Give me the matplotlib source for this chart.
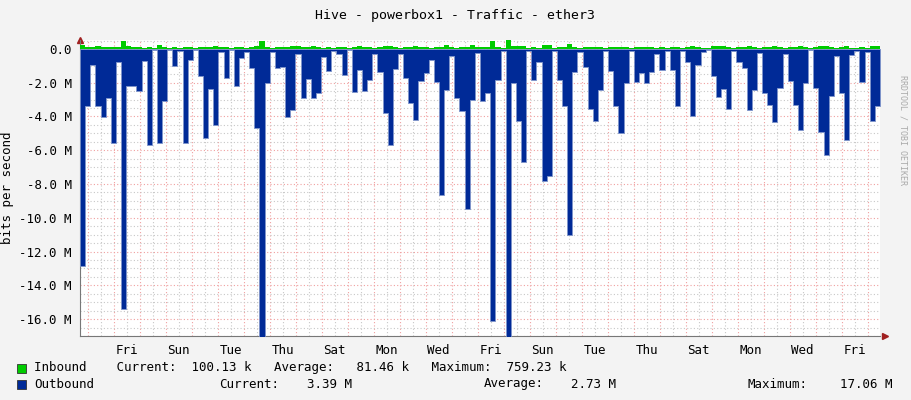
import numpy as np
import matplotlib
matplotlib.use("Agg")
import matplotlib.pyplot as plt

outbound_M = [
 12.85,3.4,0.95,3.4,4.05,2.9,5.55,0.8,15.4,2.2,2.2,2.5,0.7,5.7,0.05,5.55,3.1,0.05,1.0,0.1,
 5.55,0.65,0.05,1.6,5.3,2.4,4.5,0.2,1.75,0.05,2.2,0.55,0.2,1.1,4.7,17.06,2.0,0.2,1.1,
 1.05,4.05,3.6,0.3,2.9,1.8,2.9,2.6,0.45,1.3,0.15,0.3,1.55,0.05,2.55,1.25,2.5,1.85,0.3,1.35,3.8,
 5.7,1.2,0.3,1.7,3.2,4.2,1.9,1.4,0.65,1.95,8.65,2.45,0.4,2.9,3.7,9.5,3.0,0.25,
 3.1,2.6,16.1,1.85,0.15,17.06,2.0,4.25,6.7,0.15,1.85,0.75,7.8,7.55,0.1,1.85,3.4,11.0,1.35,0.2,
 1.05,3.55,4.25,2.45,0.15,1.3,3.4,4.95,2.0,0.15,1.95,1.45,2.0,1.35,0.3,1.25,0.15,1.25,
 3.4,0.1,0.8,4.0,0.95,0.2,0.05,1.6,2.85,2.35,3.55,0.1,0.75,1.15,3.6,2.45,0.25,2.6,3.3,4.3,
 2.3,0.3,1.9,3.3,4.8,2.0,0.05,2.3,4.9,6.3,2.8,0.4,2.6,5.4,0.35,0.15,1.95,0.18,4.25,3.4]

inbound_M = [
 0.25,0.1,0.1,0.15,0.1,0.1,0.1,0.1,0.45,0.15,0.1,0.1,0.05,0.1,0.05,0.25,0.1,0.05,0.1,0.05,
 0.1,0.1,0.05,0.1,0.1,0.1,0.15,0.1,0.1,0.05,0.1,0.1,0.05,0.1,0.2,0.45,0.1,0.05,0.1,
 0.1,0.1,0.15,0.15,0.1,0.1,0.15,0.1,0.05,0.1,0.05,0.1,0.1,0.05,0.1,0.15,0.1,0.1,0.05,0.1,0.15,
 0.15,0.1,0.05,0.1,0.1,0.15,0.1,0.1,0.05,0.1,0.1,0.25,0.1,0.05,0.1,0.1,0.25,0.1,
 0.1,0.1,0.45,0.1,0.05,0.76,0.15,0.15,0.2,0.05,0.1,0.05,0.25,0.25,0.05,0.1,0.1,0.3,0.1,0.05,
 0.1,0.1,0.1,0.1,0.05,0.1,0.1,0.12,0.1,0.05,0.1,0.1,0.1,0.1,0.05,0.1,0.05,0.1,
 0.1,0.05,0.1,0.15,0.1,0.05,0.05,0.15,0.15,0.15,0.1,0.05,0.1,0.1,0.15,0.1,0.05,0.1,0.1,0.2,
 0.1,0.05,0.1,0.1,0.15,0.1,0.05,0.1,0.15,0.2,0.1,0.05,0.1,0.15,0.05,0.05,0.1,0.05,0.15,0.15]

day_labels = ["Fri","Sun","Tue","Thu","Sat","Mon","Wed","Fri","Sun","Tue","Thu","Sat","Mon","Wed","Fri"]
ytick_vals = [0,-2,-4,-6,-8,-10,-12,-14,-16]

W, H = 911, 400
fig = plt.figure(figsize=(W/100, H/100), dpi=100, facecolor="#f3f3f3")
L, R, T, B = 80, 880, 40, 336
ax = fig.add_axes([L/W, 1-B/H, (R-L)/W, (B-T)/H])
ax.set_facecolor("white")

span = (R-L)/26.0
n = len(outbound_M)
edges = np.linspace(0, span, n+1)
out = np.array(outbound_M + [outbound_M[-1]])
inb = list(inbound_M[:n]) + [0.1]*(n-len(inbound_M))
inn = np.array(inb + [inb[-1]])
ax.fill_between(edges, -out, 0, step="post", color="#002a97", lw=0.6, edgecolor="#7f95cb", zorder=3)
ax.fill_between(edges, inn, 0, step="post", color="#00cc00", lw=0, zorder=3)

ax.set_xlim(0, span)
ax.set_ylim(-17.0, 0.53)

first = 7.7/26
for d in np.arange(first, span, 1.0):
    ax.axvline(d, color="#f0a0a0", lw=0.8, ls=(0,(1,2)), zorder=1)
for d in np.arange(first+0.5, span, 1.0):
    ax.axvline(d, color="#c8c8c8", lw=0.8, ls=(0,(1,2)), zorder=1)
for v in np.arange(0, -17.01, -2):
    ax.axhline(v, color="#f0a0a0", lw=0.8, ls=(0,(1,2)), zorder=1)
for v in np.arange(0.5, -17.01, -0.5):
    if abs(v % 2) > 1e-6:
        ax.axhline(v, color="#c8c8c8", lw=0.8, ls=(0,(1,2)), zorder=1)

label_pos = [first + 1.5 + 2*k for k in range(len(day_labels))]
ax.set_xticks(label_pos)
ax.set_xticklabels(day_labels, fontfamily="DejaVu Sans Mono", fontsize=9)
ax.set_yticks(ytick_vals)
ax.set_yticklabels(["0.0"] + [f"{v:.1f} M" for v in ytick_vals[1:]], fontfamily="DejaVu Sans Mono", fontsize=9)
ax.tick_params(length=0, pad=6)
for s in ["top", "right"]:
    ax.spines[s].set_visible(False)
ax.spines["left"].set_color("#777777")
ax.spines["bottom"].set_color("#777777")
ax.plot([span*1.006], [-17.0], marker=">", color="#a02020", ms=4, clip_on=False)
ax.plot([0], [0.53], marker="^", color="#a02020", ms=4, clip_on=False)

ax.set_ylabel("bits per second", fontfamily="DejaVu Sans Mono", fontsize=9)
fig.text(455/W, 1-15/H, "Hive - powerbox1 - Traffic - ether3", ha="center", va="center",
         fontfamily="DejaVu Sans Mono", fontsize=9.5)
fig.text(903/W, 1-130/H, "RRDTOOL / TOBI OETIKER", rotation=270, ha="center", va="center",
         fontfamily="DejaVu Sans Mono", fontsize=6, color="#aaaaaa")

mono = dict(fontfamily="DejaVu Sans Mono", fontsize=9, va="center")
fig.patches.append(plt.Rectangle((17/W, 1-373/H), 9/W, 9/H, transform=fig.transFigure,
                                 facecolor="#00cc00", edgecolor="#333333", lw=0.6))
fig.patches.append(plt.Rectangle((17/W, 1-389/H), 9/W, 9/H, transform=fig.transFigure,
                                 facecolor="#002a97", edgecolor="#333333", lw=0.6))
fig.text(34/W, 1-368/H, "Inbound    Current:  100.13 k   Average:   81.46 k   Maximum:  759.23 k", **mono)
fig.text(34/W, 1-384/H, "Outbound", **mono)
fig.text(219/W, 1-384/H, "Current:", **mono)
fig.text(352/W, 1-384/H, "3.39 M", ha="right", **mono)
fig.text(484/W, 1-384/H, "Average:", **mono)
fig.text(616/W, 1-384/H, "2.73 M", ha="right", **mono)
fig.text(748/W, 1-384/H, "Maximum:", **mono)
fig.text(893/W, 1-384/H, "17.06 M", ha="right", **mono)

fig.savefig("out.png", dpi=100, facecolor=fig.get_facecolor())
